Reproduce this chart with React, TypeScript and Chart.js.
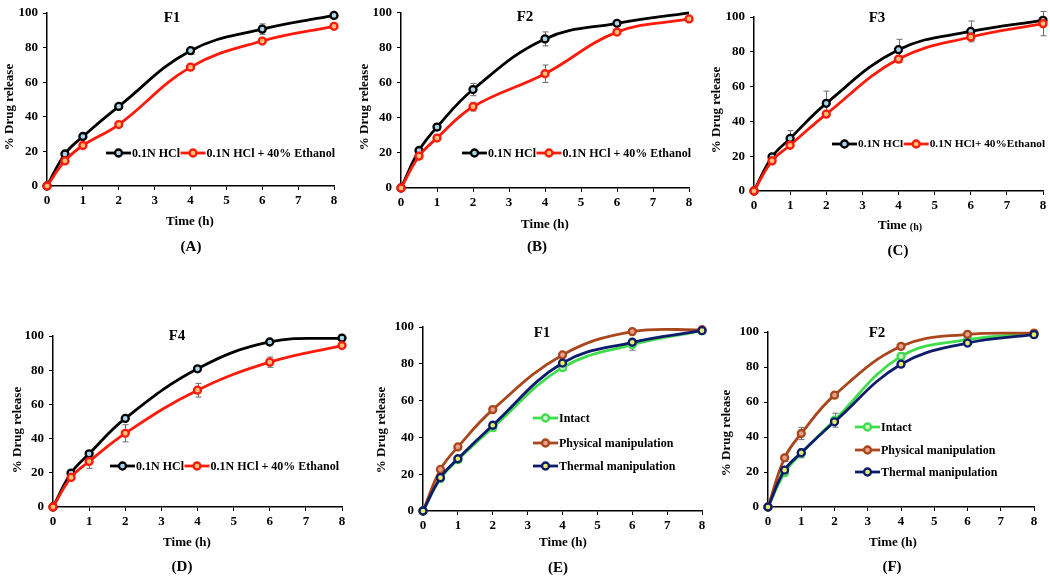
import React, { useEffect, useRef } from 'react';
import { Chart, registerables } from 'chart.js';

Chart.register(...registerables);

// ---------- DATA ----------
const TIMES = [0, 0.5, 1, 2, 4, 6, 8];

const HCL_LABEL = '0.1N HCl';
const ETH_LABEL = '0.1N HCl + 40% Ethanol';
const ETH_LABEL_C = '0.1N HCl+ 40%Ethanol';
const INTACT_LABEL = 'Intact';
const PHYS_LABEL = 'Physical manipulation';
const THERM_LABEL = 'Thermal manipulation';

// Panel A (F1)
const A_HCL = [0, 18.5, 28.6, 46, 78.2, 90.7, 98.6];
const A_HCL_ERR = [0, 0.5, 1, 1, 2, 3, 1];
const A_ETH = [0, 14.5, 23.4, 35.5, 68.7, 83.8, 92.3];
const A_ETH_ERR = [0, 0.5, 0.5, 1, 1, 1, 1];

// Panel B (F2)
const B_HCL = [0, 21.4, 34.8, 56.2, 85.1, 94, 100];
const B_HCL_ERR = [0, 1, 2, 3.5, 4, 1, 0];
const B_ETH = [0, 18.2, 28.5, 46.4, 65.2, 89, 96.5];
const B_ETH_ERR = [0, 1, 1, 2.5, 5, 1, 1];

// Panel C (F3)
const C_HCL = [0, 19.6, 30.2, 50.4, 81.2, 91.7, 98.1];
const C_HCL_ERR = [0, 1, 4.5, 7, 6, 6, 1];
const C_ETH = [0, 17.3, 26.3, 44.2, 75.8, 88.5, 96.2];
const C_ETH_ERR = [0, 1, 1, 1, 2, 2, 7];

// Panel D (F4)
const D_HCL = [0, 19.8, 31.1, 51.8, 80.8, 96.5, 98.8];
const D_HCL_ERR = [0, 0.5, 0.5, 1, 1, 1, 1];
const D_ETH = [0, 17.3, 26.6, 43.1, 68.3, 84.7, 94.4];
const D_ETH_ERR = [0, 1, 4, 5, 4, 3, 1];

// Panel E (F1 manipulation)
const E_INTACT = [0, 17.6, 27.9, 45.3, 77.9, 90.4, 98];
const E_INTACT_ERR = [0, 0.5, 1, 1, 1.5, 3, 1];
const E_PHYS = [0, 22.6, 34.8, 55.1, 84.8, 97.5, 98.5];
const E_PHYS_ERR = [0, 0.5, 1, 1, 1, 1, 0.5];
const E_THERM = [0, 18.1, 28.4, 46.6, 80.4, 91.7, 98];
const E_THERM_ERR = [0, 0.5, 0.5, 1, 1, 1, 0.5];

// Panel F (F2 manipulation)
const F_INTACT = [0, 19.6, 30.6, 49.6, 86.1, 95.6, 99];
const F_INTACT_ERR = [0, 1, 2.5, 4, 2, 1, 0.5];
const F_PHYS = [0, 28.1, 42, 63.9, 91.8, 98.7, 99.4];
const F_PHYS_ERR = [0, 2, 3.5, 1, 1, 1, 0.5];
const F_THERM = [0, 21.1, 31, 48.7, 81.6, 93.7, 98.5];
const F_THERM_ERR = [0, 0.5, 1, 1, 1, 1, 0.5];

// ---------- STYLE ----------
const SERIF = "'Liberation Serif', 'Times New Roman', serif";
const W = 1050;
const H = 577;
const YW = 40;
const XH = 26;

type Style = { color: string; center: string };
const S_BLACK: Style = { color: '#000000', center: '#a9d6ef' };
const S_RED: Style = { color: '#ff1a0a', center: '#ffc27a' };
const S_GREEN: Style = { color: '#3fdc4c', center: '#c9f5c9' };
const S_BROWN: Style = { color: '#a9461c', center: '#e8a08a' };
const S_NAVY: Style = { color: '#0d1b6c', center: '#e6f06a' };

type Series = { label: string; values: number[]; errors: number[]; style: Style; hideLast?: boolean };

type Panel = {
  plot: { L: number; R: number; T: number; B: number };
  title: { text: string; x: number; y: number };
  legend: { type: 'row' | 'col'; x: number; ys: number[]; size: number };
  xTitle: { x: number; y: number; smallUnit?: boolean };
  yTitle: { x: number; y: number };
  letter: { text: string; x: number; y: number };
  series: Series[]; // legend order
  drawOrder: number[]; // indices, first = on top
};

const PANELS: Panel[] = [
  {
    plot: { L: 47, R: 334, T: 13, B: 186 },
    title: { text: 'F1', x: 172, y: 18 },
    legend: { type: 'row', x: 106, ys: [153], size: 12 },
    xTitle: { x: 190, y: 222 },
    yTitle: { x: 10, y: 107 },
    letter: { text: '(A)', x: 191, y: 247 },
    series: [
      { label: HCL_LABEL, values: A_HCL, errors: A_HCL_ERR, style: S_BLACK },
      { label: ETH_LABEL, values: A_ETH, errors: A_ETH_ERR, style: S_RED },
    ],
    drawOrder: [1, 0],
  },
  {
    plot: { L: 401, R: 689, T: 9, B: 188 },
    title: { text: 'F2', x: 525, y: 17 },
    legend: { type: 'row', x: 462, ys: [153], size: 12 },
    xTitle: { x: 545, y: 225 },
    yTitle: { x: 365, y: 107 },
    letter: { text: '(B)', x: 537, y: 247 },
    series: [
      { label: HCL_LABEL, values: B_HCL, errors: B_HCL_ERR, style: S_BLACK, hideLast: true },
      { label: ETH_LABEL, values: B_ETH, errors: B_ETH_ERR, style: S_RED },
    ],
    drawOrder: [1, 0],
  },
  {
    plot: { L: 754, R: 1043, T: 17, B: 191 },
    title: { text: 'F3', x: 877, y: 18 },
    legend: { type: 'row', x: 832, ys: [144], size: 11.3 },
    xTitle: { x: 900, y: 226, smallUnit: true },
    yTitle: { x: 717, y: 110 },
    letter: { text: '(C)', x: 898, y: 251 },
    series: [
      { label: HCL_LABEL, values: C_HCL, errors: C_HCL_ERR, style: S_BLACK },
      { label: ETH_LABEL_C, values: C_ETH, errors: C_ETH_ERR, style: S_RED },
    ],
    drawOrder: [1, 0],
  },
  {
    plot: { L: 53, R: 342, T: 336, B: 507 },
    title: { text: 'F4', x: 177, y: 336 },
    legend: { type: 'row', x: 110, ys: [466], size: 12 },
    xTitle: { x: 187, y: 543 },
    yTitle: { x: 18, y: 430 },
    letter: { text: '(D)', x: 182, y: 567 },
    series: [
      { label: HCL_LABEL, values: D_HCL, errors: D_HCL_ERR, style: S_BLACK },
      { label: ETH_LABEL, values: D_ETH, errors: D_ETH_ERR, style: S_RED },
    ],
    drawOrder: [1, 0],
  },
  {
    plot: { L: 423, R: 702, T: 327, B: 511 },
    title: { text: 'F1', x: 542, y: 333 },
    legend: { type: 'col', x: 533, ys: [418, 443, 466], size: 12 },
    xTitle: { x: 563, y: 543 },
    yTitle: { x: 382, y: 430 },
    letter: { text: '(E)', x: 558, y: 568 },
    series: [
      { label: INTACT_LABEL, values: E_INTACT, errors: E_INTACT_ERR, style: S_GREEN },
      { label: PHYS_LABEL, values: E_PHYS, errors: E_PHYS_ERR, style: S_BROWN },
      { label: THERM_LABEL, values: E_THERM, errors: E_THERM_ERR, style: S_NAVY },
    ],
    drawOrder: [2, 1, 0],
  },
  {
    plot: { L: 768, R: 1034, T: 332, B: 507 },
    title: { text: 'F2', x: 877, y: 333 },
    legend: { type: 'col', x: 855, ys: [427, 450, 472], size: 12 },
    xTitle: { x: 893, y: 543 },
    yTitle: { x: 727, y: 433 },
    letter: { text: '(F)', x: 892, y: 567 },
    series: [
      { label: INTACT_LABEL, values: F_INTACT, errors: F_INTACT_ERR, style: S_GREEN },
      { label: PHYS_LABEL, values: F_PHYS, errors: F_PHYS_ERR, style: S_BROWN },
      { label: THERM_LABEL, values: F_THERM, errors: F_THERM_ERR, style: S_NAVY },
    ],
    drawOrder: [2, 1, 0],
  },
];

const PT_R = 3.5;
const PT_BW = 2.3;
const LINE_W = 2.8;

function drawMarker(ctx: CanvasRenderingContext2D, x: number, y: number, st: Style) {
  ctx.beginPath();
  ctx.arc(x, y, PT_R, 0, Math.PI * 2);
  ctx.fillStyle = st.center;
  ctx.fill();
  ctx.lineWidth = PT_BW;
  ctx.strokeStyle = st.color;
  ctx.stroke();
}

function makeDecor(panel: Panel) {
  return {
    id: 'decor',
    beforeDatasetsDraw(chart: any) {
      const ctx: CanvasRenderingContext2D = chart.ctx;
      const xs = chart.scales.x;
      const ys = chart.scales.y;
      ctx.save();
      ctx.strokeStyle = '#6b6b6b';
      ctx.lineWidth = 1;
      panel.series.forEach((s) => {
        s.values.forEach((v, i) => {
          const e = s.errors[i];
          if (!e) return;
          const px = Math.round(xs.getPixelForValue(TIMES[i])) + 0.5;
          const y1 = ys.getPixelForValue(v + e);
          const y2 = ys.getPixelForValue(Math.max(0, v - e));
          ctx.beginPath();
          ctx.moveTo(px, y1);
          ctx.lineTo(px, y2);
          ctx.moveTo(px - 3, y1);
          ctx.lineTo(px + 3, y1);
          ctx.moveTo(px - 3, y2);
          ctx.lineTo(px + 3, y2);
          ctx.stroke();
        });
      });
      ctx.restore();
    },
    afterDraw(chart: any) {
      const ctx: CanvasRenderingContext2D = chart.ctx;
      ctx.save();
      ctx.fillStyle = '#000';
      ctx.textBaseline = 'middle';
      // panel title
      ctx.font = `bold 15px ${SERIF}`;
      ctx.textAlign = 'center';
      ctx.fillText(panel.title.text, panel.title.x, panel.title.y);
      // x title
      if (panel.xTitle.smallUnit) {
        const a = 'Time ';
        ctx.font = `bold 13px ${SERIF}`;
        const wa = ctx.measureText(a).width;
        ctx.font = `bold 10px ${SERIF}`;
        const wb = ctx.measureText('(h)').width;
        const x0 = panel.xTitle.x - (wa + wb) / 2;
        ctx.textAlign = 'left';
        ctx.font = `bold 13px ${SERIF}`;
        ctx.fillText(a, x0, panel.xTitle.y);
        ctx.font = `bold 10px ${SERIF}`;
        ctx.fillText('(h)', x0 + wa, panel.xTitle.y + 1);
      } else {
        ctx.font = `bold 13px ${SERIF}`;
        ctx.textAlign = 'center';
        ctx.fillText('Time (h)', panel.xTitle.x, panel.xTitle.y);
      }
      // panel letter
      ctx.font = `bold 15px ${SERIF}`;
      ctx.textAlign = 'center';
      ctx.fillText(panel.letter.text, panel.letter.x, panel.letter.y);
      // y title
      ctx.save();
      ctx.translate(panel.yTitle.x, panel.yTitle.y);
      ctx.rotate(-Math.PI / 2);
      ctx.font = `bold 13px ${SERIF}`;
      ctx.textAlign = 'center';
      ctx.fillText('% Drug release', 0, 0);
      ctx.restore();
      // legend
      ctx.font = `bold ${panel.legend.size}px ${SERIF}`;
      ctx.textAlign = 'left';
      const LL = 25;
      if (panel.legend.type === 'row') {
        let x = panel.legend.x;
        const y = panel.legend.ys[0];
        panel.series.forEach((s) => {
          ctx.strokeStyle = s.style.color;
          ctx.lineWidth = LINE_W;
          ctx.beginPath();
          ctx.moveTo(x, y);
          ctx.lineTo(x + LL, y);
          ctx.stroke();
          drawMarker(ctx, x + LL / 2, y, s.style);
          ctx.fillStyle = '#000';
          ctx.fillText(s.label, x + LL + 1, y + 0.5);
          x += LL + 1 + ctx.measureText(s.label).width + 0.5;
        });
      } else {
        panel.series.forEach((s, i) => {
          const x = panel.legend.x;
          const y = panel.legend.ys[i];
          ctx.strokeStyle = s.style.color;
          ctx.lineWidth = LINE_W;
          ctx.beginPath();
          ctx.moveTo(x, y);
          ctx.lineTo(x + LL, y);
          ctx.stroke();
          drawMarker(ctx, x + LL / 2, y, s.style);
          ctx.fillStyle = '#000';
          ctx.fillText(s.label, x + LL + 1, y + 0.5);
        });
      }
      ctx.restore();
    },
  };
}

function buildConfig(panel: Panel): any {
  const { L, R, T, B } = panel.plot;
  const tickFont = { family: SERIF, size: 13, weight: 'bold' as const };
  const datasets = panel.drawOrder.map((idx) => {
    const s = panel.series[idx];
    const radius = s.values.map((_, i) => (s.hideLast && i === s.values.length - 1 ? 0 : PT_R));
    return {
      label: s.label,
      data: TIMES.map((t, i) => ({ x: t, y: s.values[i] })),
      borderColor: s.style.color,
      backgroundColor: s.style.color,
      borderWidth: LINE_W,
      pointRadius: radius,
      pointBorderWidth: PT_BW,
      pointBackgroundColor: s.style.center,
      pointBorderColor: s.style.color,
      tension: 0.4,
      clip: false,
    };
  });
  return {
    type: 'line',
    data: { datasets },
    options: {
      responsive: false,
      animation: false,
      events: [],
      layout: {
        padding: { left: L - YW, top: T, right: W - R, bottom: H - B - XH },
      },
      plugins: {
        legend: { display: false },
        tooltip: { enabled: false },
        title: { display: false },
      },
      scales: {
        x: {
          type: 'linear',
          min: 0,
          max: 8,
          ticks: { stepSize: 1, font: tickFont, color: '#000', padding: 3, maxRotation: 0 },
          grid: { drawOnChartArea: false, drawTicks: true, tickLength: 4, color: '#000', lineWidth: 1 },
          border: { display: true, color: '#000', width: 1.5 },
          afterFit: (s: any) => {
            s.height = XH;
          },
        },
        y: {
          type: 'linear',
          min: 0,
          max: 100,
          ticks: { stepSize: 20, font: tickFont, color: '#000', padding: 5 },
          grid: { drawOnChartArea: false, drawTicks: true, tickLength: 4, color: '#000', lineWidth: 1 },
          border: { display: true, color: '#000', width: 1.5 },
          afterFit: (s: any) => {
            s.width = YW;
          },
        },
      },
    },
    plugins: [makeDecor(panel)],
  };
}

function PanelChart({ panel }: { panel: Panel }) {
  const ref = useRef<HTMLCanvasElement | null>(null);
  useEffect(() => {
    if (!ref.current) return;
    const chart = new Chart(ref.current, buildConfig(panel));
    return () => chart.destroy();
  }, [panel]);
  return (
    <canvas
      ref={ref}
      width={W}
      height={H}
      style={{ position: 'absolute', left: 0, top: 0, width: W, height: H }}
    />
  );
}

export default function App() {
  return (
    <div style={{ position: 'absolute', left: 0, top: 0, width: W, height: H, background: '#fff' }}>
      {PANELS.map((p, i) => (
        <PanelChart key={i} panel={p} />
      ))}
    </div>
  );
}
